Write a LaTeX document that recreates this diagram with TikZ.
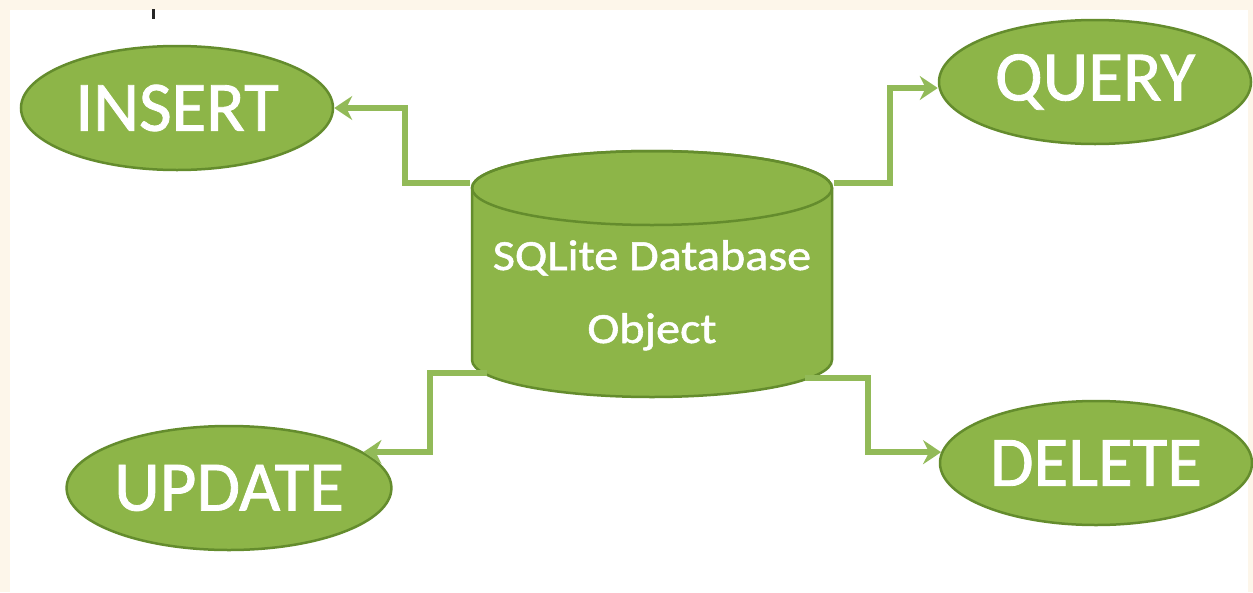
\documentclass[tikz,border=0pt]{standalone}
\usepackage{fontspec}
\setmainfont{Carlito}[FakeBold=1.2]
\usetikzlibrary{arrows.meta,shapes.geometric}
\definecolor{cream}{RGB}{253,246,234}
\definecolor{gfill}{RGB}{141,181,72}
\definecolor{gline}{RGB}{100,140,45}
\definecolor{conncol}{RGB}{146,186,88}
\tikzset{
  opnode/.style={ellipse, draw=gline, line width=2.5pt, fill=gfill, minimum width=312pt,
    minimum height=124pt, inner sep=0pt, text=white, font=\fontsize{71}{71}\selectfont},
  conn/.style={draw=conncol, line width=5.5pt,
    -{Stealth[length=18pt,width=24pt,inset=6pt]}},
  dbtext/.style={anchor=base, text=white, inner sep=0pt, font=\fontsize{43}{43}\selectfont},
}
\begin{document}
\begin{tikzpicture}[x=1pt,y=-1pt]
\useasboundingbox (0,0) rectangle (1253,592);
\fill[cream] (0,0) rectangle (1253,592);
\fill[white] (10,10) rectangle (1248,592);
\draw[line width=3pt, black!85] (153,9) -- (153,19);

% cylinder
\draw[draw=gline, line width=2.5pt, fill=gfill]
  (472,188) -- (472,360) arc[start angle=180, end angle=360, x radius=180, y radius=-37]
  -- (832,188) arc[start angle=0, end angle=180, x radius=180, y radius=-37] -- cycle;
\draw[draw=gline, line width=2.5pt] (652,188) ellipse[x radius=180, y radius=37];
\node[dbtext] (db1) at (652,270) {\scalebox{1.12}[1]{SQLite Database}};
\node[dbtext] (db2) at (652,343) {\scalebox{1.12}[1]{Object}};

\coordinate (cIns) at (470,183);
\coordinate (cQry) at (834,183);
\coordinate (cUpd) at (487,373);
\coordinate (cDel) at (805,378);

% operation ellipses
\node[opnode] (ins) at (177,108) {INSERT};
\node[opnode] (qry) at (1095,82) {QUERY};
\node[opnode] (upd) at (229,488) {UPDATE};
\node[opnode] (del) at (1096,463) {DELETE};

% connectors
\draw[conn] (cIns) -- ++(-65,0) |- (ins.east);
\draw[conn] (cQry) -- ++(56,0) |- ([yshift=-6pt]qry.west);
\draw[conn] (cUpd) -- ++(-57,0) |- (upd.15);
\draw[conn] (cDel) -- ++(63,0) |- (del.176);
\end{tikzpicture}
\end{document}
